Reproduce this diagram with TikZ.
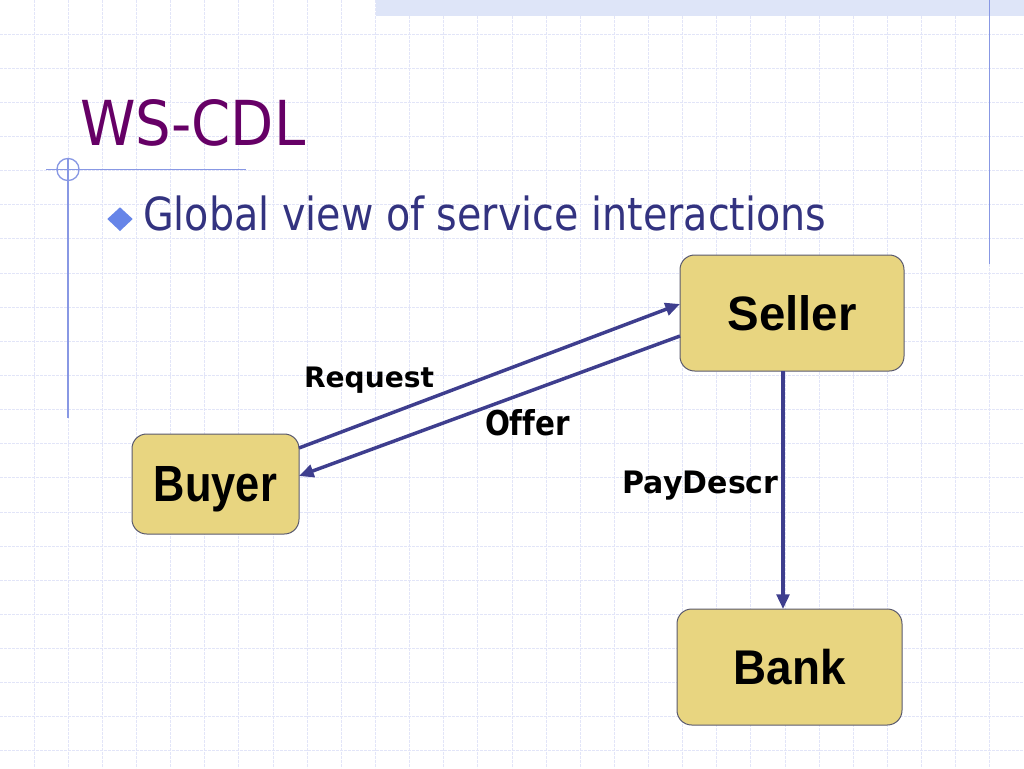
\documentclass[tikz,border=0pt]{standalone}
\usepackage{fontspec}
\setmainfont{DejaVu Sans}
\newfontfamily\boxfont{Liberation Sans}
\usepackage{graphicx}
\usetikzlibrary{arrows.meta,calc}
\definecolor{gridc}{RGB}{226,229,248}
\definecolor{decoc}{RGB}{136,152,228}
\definecolor{bandc}{RGB}{222,229,248}
\definecolor{titlec}{RGB}{102,0,102}
\definecolor{subc}{RGB}{51,51,128}
\definecolor{bulletc}{RGB}{102,133,232}
\definecolor{boxfill}{RGB}{232,213,128}
\definecolor{boxdraw}{RGB}{90,90,110}
\definecolor{arrc}{RGB}{62,62,142}
\newcommand{\fitbox}[3]{\resizebox{#1}{#2}{#3}}
\begin{document}
\begin{tikzpicture}[x=0.75pt,y=-0.75pt,
  gridline/.style={gridc, line width=0.75pt, dash pattern=on 2pt off 1pt},
  deco/.style={decoc, line width=1pt},
  box/.style={draw=boxdraw, fill=boxfill, line width=0.75pt, rounded corners=11pt,
    inner sep=0pt, outer sep=0pt, text depth=0pt, font=\boxfont\bfseries},
  msg/.style={arrc, line width=2.6pt, -{Triangle[length=11pt,width=9.5pt]}},
  lbl/.style={anchor=base west, inner sep=0pt, outer sep=0pt, font=\bfseries}]
\useasboundingbox (0,0) rectangle (1024,768);
\fill[white] (0,0) rectangle (1024,768);
% grid
\foreach \i in {1,...,29} \draw[gridline] (\i*34.133,0) -- (\i*34.133,768);
\foreach \j in {1,...,22} \draw[gridline] (0,\j*34.133) -- (1024,\j*34.133);
% top band
\fill[bandc] (375.5,0) rectangle (1024,16);
% decorative lines
\draw[deco] (989.5,0) -- (989.5,264);
\draw[deco] (68,158) -- (68,418);
\draw[deco] (46,169.5) -- (246,169.5);
\draw[deco] (68,169.5) circle[radius=8.3pt];
% title and bullet
\node[anchor=base west, inner sep=0pt, text=titlec] (title) at (80,145) {\fitbox{168.75pt}{34.5pt}{WS-CDL}};
\fill[bulletc] (107.3,219) -- (120,207.3) -- (132.7,219) -- (120,231) -- cycle;
\node[anchor=base west, inner sep=0pt, text=subc] (sub) at (143,230.7) {\fitbox{512.25pt}{26pt}{Global view of service interactions}};
% boxes
\node[box, minimum width=125.25pt, minimum height=75pt] (buyer) at (215.5,484) {\fitbox{92.25pt}{26.25pt}{Buyer}};
\node[box, minimum width=168pt, minimum height=87pt] (seller) at (792,313) {\fitbox{96.75pt}{26.25pt}{Seller}};
\node[box, minimum width=168.75pt, minimum height=87pt] (bank) at (789.5,667) {\fitbox{84pt}{26.5pt}{Bank}};
% connectors
\draw[msg] ($(buyer.east)+(0,-36)$) -- ($(seller.west)+(0,-9)$);
\draw[msg] ($(seller.west)+(0,23)$) -- ($(buyer.east)+(0,-8)$);
\draw[msg] ($(seller.south)+(-9,0)$) -- ($(bank.north)+(-6.5,0)$);
% labels
\node[lbl] (lreq) at (304,387.7) {\fitbox{97.5pt}{15.4pt}{Request}};
\node[lbl] (loff) at (485,435) {\fitbox{63.75pt}{19.5pt}{Of\kern0pt{}fer}};
\node[lbl] (lpay) at (622.7,493.3) {\fitbox{116.8pt}{16.9pt}{PayDescr}};
\end{tikzpicture}
\end{document}
